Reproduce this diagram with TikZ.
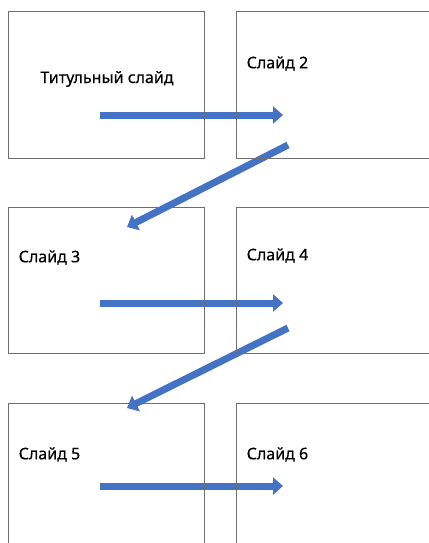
\documentclass[tikz,border=0pt]{standalone}
\usepackage{fontspec}
\setmainfont{Noto Sans}
\newfontfamily\slidefont[FakeBold=0.5]{Noto Sans}
\usepackage{xcolor}
\usetikzlibrary{positioning,calc,arrows.meta}
\definecolor{arrowblue}{HTML}{4472C4}
\definecolor{framegray}{HTML}{6E6E6E}

\begin{document}
\begin{tikzpicture}[x=1pt, y=-1pt, node distance=48pt and 31pt,
    slidebox/.style={rectangle, draw=framegray, line width=1pt, minimum width=196pt, minimum height=146pt, inner sep=0pt},
    slidetitle/.style={anchor=west, inner sep=0pt, font=\slidefont\fontsize{16}{19}\selectfont},
    flow/.style={draw=arrowblue, line width=7pt, -{Triangle[length=10pt, width=17pt]}}]
    \useasboundingbox (0,0) rectangle (428,543);

    \coordinate (a1s) at (100,115);
    \coordinate (a1e) at (283,115);
    \coordinate (d1s) at (288,145);
    \coordinate (d1e) at (127,227);
    \coordinate (a2s) at (100,303);
    \coordinate (a2e) at (283,303);
    \coordinate (d2s) at (288,328);
    \coordinate (d2e) at (127,408);
    \coordinate (a3s) at (100,486);
    \coordinate (a3e) at (283,486);

    \draw[flow] (a1s) -- (a1e);
    \draw[flow] (d1s) -- (d1e);
    \draw[flow] (a2s) -- (a2e);
    \draw[flow] (d2s) -- (d2e);
    \draw[flow] (a3s) -- (a3e);

    \node[slidebox] (s1) at (106,85) {};
    \node[slidebox, right=of s1] (s2) {};
    \node[slidebox, below=of s1] (s3) {};
    \node[slidebox, right=of s3] (s4) {};
    \node[slidebox, below=49pt of s3] (s5) {};
    \node[slidebox, right=of s5] (s6) {};

    \node[slidetitle, anchor=center] (t1) at ($(s1.center)+(1,-6)$) {Титульный слайд};
    \node[slidetitle] (t2) at ($(s2.north west)+(11,52)$) {Слайд 2};
    \node[slidetitle] (t3) at ($(s3.north west)+(11,51)$) {Слайд 3};
    \node[slidetitle] (t4) at ($(s4.north west)+(11,49)$) {Слайд 4};
    \node[slidetitle] (t5) at ($(s5.north west)+(11,52)$) {Слайд 5};
    \node[slidetitle] (t6) at ($(s6.north west)+(11,52)$) {Слайд 6};
\end{tikzpicture}
\end{document}
